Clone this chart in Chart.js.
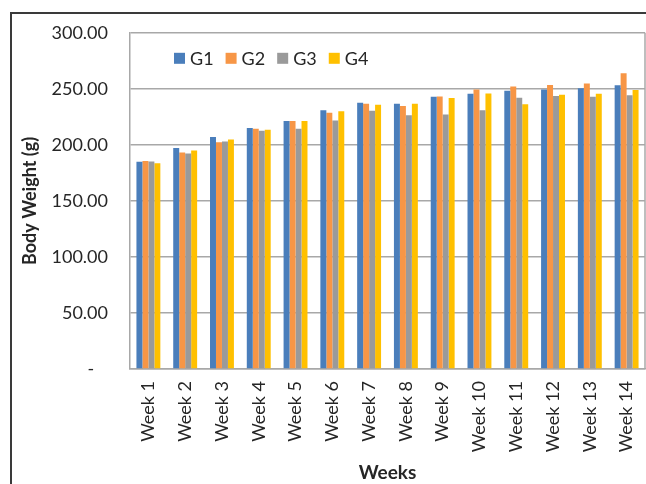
<!DOCTYPE html>
<html>
<head>
<meta charset="utf-8">
<script src="https://cdn.jsdelivr.net/npm/chart.js@4"></script>
<style>
    html, body { margin: 0; padding: 0; background: #fff; overflow: hidden; }
    #wrap { position: relative; width: 646px; height: 484px; }
    #cadre { position: absolute; left: 10px; top: 12px; width: 700px; height: 500px;
             border-left: 2px solid #3a3a3a; border-top: 2px solid #3a3a3a; }
    canvas { position: absolute; left: 0; top: 0; }
</style>
</head>
<body>
<div id="wrap">
    <div id="cadre"></div>
    <canvas id="poidsChart" width="646" height="484"></canvas>
</div>
<script>
const weeks = ['Week 1', 'Week 2', 'Week 3', 'Week 4', 'Week 5', 'Week 6', 'Week 7',
    'Week 8', 'Week 9', 'Week 10', 'Week 11', 'Week 12', 'Week 13', 'Week 14'];
const g1 = [185.0, 197.3, 207.0, 215.0, 221.2, 231.0, 237.5, 236.7, 243.0, 245.6, 248.4, 249.4, 250.6, 253.3];
const g2 = [185.6, 193.2, 202.4, 214.4, 221.2, 228.6, 236.6, 234.7, 243.2, 249.4, 252.0, 253.5, 254.7, 264.0];
const g3 = [185.2, 192.3, 202.9, 212.6, 214.4, 221.8, 230.5, 226.4, 227.0, 230.8, 242.0, 243.6, 243.0, 244.2];
const g4 = [183.5, 195.0, 204.7, 213.5, 221.2, 230.0, 235.7, 236.7, 241.8, 245.9, 236.2, 244.7, 245.6, 249.0];
const groupLabels = ['G1', 'G2', 'G3', 'G4'];
const yMin = 0, yMax = 300, yStep = 50;

const couleurs = ['#4a7ebb', '#f79646', '#9a9a9a', '#ffc000'];
const police = 'Lato, "Liberation Sans", sans-serif';
const grille = '#a8a8a8';

// légende dessinée à l'intérieur de la zone du graphique
const legendeInterne = {
    id: 'legendeInterne',
    afterDraw(chart) {
        const c = chart.ctx;
        const area = chart.chartArea;
        let x = area.left + 44;
        const y = area.top + 25;
        c.save();
        c.font = '18px ' + police;
        c.textBaseline = 'middle';
        c.textAlign = 'left';
        chart.data.datasets.forEach(ds => {
            c.fillStyle = ds.backgroundColor;
            c.fillRect(x, y - 5, 11, 11);
            c.fillStyle = '#262626';
            c.fillText(ds.label, x + 16, y + 1);
            x += 16 + c.measureText(ds.label).width + 12;
        });
        c.restore();
    }
};

// bord droit de la zone du graphique
const bordZone = {
    id: 'bordZone',
    afterDraw(chart) {
        const c = chart.ctx;
        const a = chart.chartArea;
        c.save();
        c.strokeStyle = grille;
        c.lineWidth = 1.5;
        c.beginPath();
        c.moveTo(a.right, a.top);
        c.lineTo(a.right, a.bottom);
        c.stroke();
        c.restore();
    }
};

const series = [g1, g2, g3, g4];
const datasets = series.map((vals, i) => ({
    label: groupLabels[i],
    data: vals,
    backgroundColor: couleurs[i],
    borderWidth: 0,
    barPercentage: 1,
    categoryPercentage: 0.65
}));

new Chart(document.getElementById('poidsChart').getContext('2d'), {
    type: 'bar',
    data: { labels: weeks, datasets: datasets },
    options: {
        responsive: false,
        animation: false,
        layout: { padding: { top: 30, right: 1, bottom: 0, left: 0 } },
        plugins: {
            legend: { display: false },
            tooltip: { enabled: false }
        },
        scales: {
            x: {
                grid: { display: false, drawTicks: false },
                border: { display: true, color: grille, width: 1.5 },
                ticks: {
                    autoSkip: false,
                    maxRotation: 90,
                    minRotation: 90,
                    padding: 12,
                    color: '#262626',
                    font: { family: police, size: 18 }
                },
                title: {
                    display: true,
                    text: 'Weeks',
                    color: '#262626',
                    font: { family: police, size: 19, weight: 'bold' },
                    padding: { top: 0, bottom: 0 }
                },
                afterFit(scale) {
                    scale.height = 115;
                    scale.paddingLeft = 0;
                    scale.paddingRight = 0;
                }
            },
            y: {
                min: yMin,
                max: yMax,
                grid: { color: grille, lineWidth: 1.5, drawTicks: false },
                border: { display: true, color: grille, width: 1.5 },
                ticks: {
                    stepSize: yStep,
                    padding: 22,
                    color: '#262626',
                    font: { family: police, size: 18 },
                    callback: v => v === 0 ? '-   ' : v.toFixed(2)
                },
                title: {
                    display: true,
                    text: 'Body Weight (g)',
                    color: '#262626',
                    font: { family: police, size: 18, weight: 'bold' },
                    padding: { top: 19, bottom: 0 }
                },
                afterFit(scale) { scale.width = 130; }
            }
        }
    },
    plugins: [legendeInterne, bordZone]
});
</script>
</body>
</html>
